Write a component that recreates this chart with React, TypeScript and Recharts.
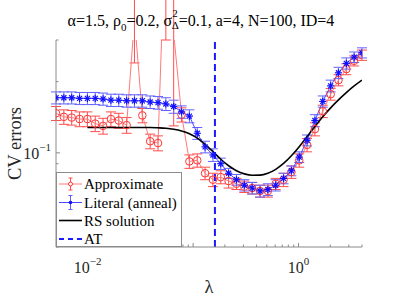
import { ComposedChart, Line, XAxis, YAxis, ErrorBar, ReferenceLine } from 'recharts';

// lambda grid (40 points, log spaced)
const lambda = [0.005, 0.005935, 0.007046, 0.008364, 0.009925, 0.01178, 0.01398, 0.0166, 0.0197, 0.02339,
  0.02776, 0.03296, 0.03912, 0.04642, 0.0551, 0.0654, 0.07763, 0.09216, 0.1094, 0.1298,
  0.1541, 0.1829, 0.2171, 0.2577, 0.3059, 0.3631, 0.431, 0.5117, 0.6073, 0.7209,
  0.8557, 1.015, 1.205, 1.43, 1.698, 2.016, 2.392, 2.84, 3.371, 4.0];

const approx = [0.147, 0.142, 0.141, 0.139, 0.139, 0.133, 0.13, 0.139, 0.137, 0.131,
  0.37, 0.144, 0.112, 0.11, 1.0, 0.32, 0.145, 0.092, 0.093, 0.082,
  0.077, 0.079, 0.076, 0.074, 0.072, 0.071, 0.069, 0.069, 0.074, 0.077,
  0.083, 0.093, 0.108, 0.126, 0.15, 0.177, 0.203, 0.226, 0.245, 0.259];
const approxErr = [0.01, 0.01, 0.01, 0.01, 0.01, 0.01, 0.01, 0.01, 0.01, 0.01,
  0.13, 0.01, 0.008, 0.008, 0.7, 0.19, 0.01, 0.006, 0.006, 0.005,
  0.005, 0.005, 0.005, 0.004, 0.004, 0.004, 0.004, 0.004, 0.004, 0.005,
  0.005, 0.006, 0.007, 0.008, 0.009, 0.01, 0.011, 0.012, 0.012, 0.013];

const literal = [0.171, 0.171, 0.171, 0.17, 0.17, 0.17, 0.169, 0.167, 0.167, 0.166,
  0.166, 0.166, 0.164, 0.163, 0.161, 0.157, 0.149, 0.143, 0.121, 0.106,
  0.098, 0.09, 0.082, 0.077, 0.073, 0.071, 0.069, 0.07, 0.073, 0.078,
  0.084, 0.096, 0.113, 0.137, 0.165, 0.192, 0.218, 0.239, 0.254, 0.265];
const literalErr = [0.01, 0.01, 0.01, 0.01, 0.01, 0.01, 0.01, 0.01, 0.01, 0.01,
  0.01, 0.01, 0.01, 0.01, 0.01, 0.01, 0.009, 0.009, 0.007, 0.006,
  0.006, 0.005, 0.004, 0.004, 0.004, 0.004, 0.004, 0.004, 0.004, 0.004,
  0.004, 0.005, 0.006, 0.008, 0.009, 0.011, 0.012, 0.013, 0.013, 0.013];

const rsSolution = [null, null, null, null, 0.128, 0.128, 0.128, 0.128, 0.128, 0.128,
  0.128, 0.128, 0.128, 0.1276, 0.127, 0.1258, 0.1238, 0.1205, 0.1155, 0.1087,
  0.1013, 0.094, 0.0882, 0.084, 0.0815, 0.0804, 0.0805, 0.082, 0.0852, 0.0902,
  0.0972, 0.1062, 0.1172, 0.1293, 0.1422, 0.155, 0.1675, 0.1798, 0.1918, 0.203];

const atLambda = 0.161;

const xTicks = [0.006, 0.007, 0.008, 0.009, 0.01, 0.02, 0.03, 0.04, 0.05, 0.06, 0.07, 0.08, 0.09,
  0.1, 0.2, 0.3, 0.4, 0.5, 0.6, 0.7, 0.8, 0.9, 1, 2, 3, 4];
const yTicks = [0.04, 0.05, 0.06, 0.07, 0.08, 0.09, 0.1, 0.2, 0.3];
const xLabels: Record<string, string> = { '0.01': '\u22122', '1': '0' };
const yLabels: Record<string, string> = { '0.1': '\u22121' };

const data = lambda.map((x, i) => ({
  x,
  approx: approx[i],
  approxErr: approxErr[i],
  literal: literal[i],
  literalErr: literalErr[i],
  rs: rsSolution[i],
}));

const FONT = "'Liberation Serif', 'Times New Roman', serif";
const AXIS = '#8a8a8a';

const XTick = (props: any) => {
  const { x, y, payload } = props;
  const v = payload.value;
  const major = v === 0.01 || v === 0.1 || v === 1;
  const exp = xLabels[String(v)];
  return (
    <g>
      <line x1={x} x2={x} y1={y} y2={y - (major ? 4 : 2.5)} stroke={AXIS} />
      {exp && (
        <text x={x} y={y + 26} textAnchor="middle" fontFamily={FONT} fontSize={16} fill="#262626">
          <tspan>10</tspan>
          <tspan dy={-8} fontSize={11}>{exp}</tspan>
        </text>
      )}
    </g>
  );
};

const YTick = (props: any) => {
  const { x, y, payload } = props;
  const v = payload.value;
  const exp = yLabels[String(v)];
  return (
    <g>
      <line x1={x} x2={x + (v === 0.1 ? 4 : 2.5)} y1={y} y2={y} stroke={AXIS} />
      {exp && (
        <text x={x - 5} y={y + 6} textAnchor="end" fontFamily={FONT} fontSize={16} fill="#262626">
          <tspan>10</tspan>
          <tspan dy={-8} fontSize={11}>{exp}</tspan>
        </text>
      )}
    </g>
  );
};

const Star = (props: any) => {
  const { cx, cy, index } = props;
  if (cx == null || cy == null) return <g key={`s${index}`} />;
  const r = 3.6;
  const d = r * 0.7;
  return (
    <g key={`s${index}`} stroke="#0f0fff" strokeWidth={1.2}>
      <line x1={cx - r} x2={cx + r} y1={cy} y2={cy} />
      <line x1={cx} x2={cx} y1={cy - r} y2={cy + r} />
      <line x1={cx - d} y1={cy - d} x2={cx + d} y2={cy + d} />
      <line x1={cx - d} y1={cy + d} x2={cx + d} y2={cy - d} />
    </g>
  );
};

const legendRows = [
  { label: 'Approximate', y: 184 },
  { label: 'Literal (anneal)', y: 202.5 },
  { label: 'RS solution', y: 220.5 },
  { label: 'AT', y: 239 },
];

export default function App() {
  return (
    <div style={{ position: 'absolute', left: 0, top: 0, width: 399, height: 299, background: '#fff' }}>
      <ComposedChart width={399} height={299} data={data} margin={{ top: 40, right: 37, bottom: 22, left: 0 }}>
        <XAxis
          dataKey="x"
          type="number"
          scale="log"
          domain={[0.005, 4]}
          allowDataOverflow
          ticks={xTicks}
          interval={0}
          tickSize={0}
          tickMargin={0}
          tickLine={false}
          tick={XTick}
          axisLine={{ stroke: AXIS }}
          height={30}
        />
        <YAxis
          type="number"
          scale="log"
          domain={[0.04, 0.3]}
          allowDataOverflow
          ticks={yTicks}
          interval={0}
          tickSize={0}
          tickMargin={0}
          tickLine={false}
          tick={YTick}
          axisLine={{ stroke: AXIS }}
          width={56}
        />
        <Line
          dataKey="approx"
          type="linear"
          stroke="#ff7a7a"
          strokeWidth={1}
          dot={{ r: 3.8, stroke: '#ff3535', fill: 'none', strokeWidth: 1 }}
          isAnimationActive={false}
        >
          <ErrorBar dataKey="approxErr" direction="y" width={5} stroke="#ff4d4d" strokeWidth={1} />
        </Line>
        <Line
          dataKey="literal"
          type="linear"
          stroke="#4a4aff"
          strokeWidth={1}
          dot={Star}
          isAnimationActive={false}
        >
          <ErrorBar dataKey="literalErr" direction="y" width={5} stroke="#6262ff" strokeWidth={1} />
        </Line>
        <Line
          dataKey="rs"
          type="monotone"
          stroke="#000"
          strokeWidth={1.6}
          dot={false}
          isAnimationActive={false}
        />
        <ReferenceLine x={atLambda} stroke="#1a1aff" strokeWidth={2} strokeDasharray="7 4" />
      </ComposedChart>
      <svg width={399} height={299} style={{ position: 'absolute', left: 0, top: 0, pointerEvents: 'none' }}>
        <text x={201} y={26} textAnchor="middle" fontFamily={FONT} fontSize={16} fill="#000">
          <tspan>α=1.5, ρ</tspan>
          <tspan dy={5} fontSize={11}>0</tspan>
          <tspan dy={-5}>=0.2, σ</tspan>
          <tspan dy={-9} fontSize={11}>2</tspan>
          <tspan dx={-6} dy={12} fontSize={11}>Δ</tspan>
          <tspan dy={-3}>=0.1, a=4, N=100, ID=4</tspan>
        </text>
        <text
          transform="translate(21,143.5) rotate(-90)"
          textAnchor="middle"
          fontFamily={FONT}
          fontSize={18.5}
          fill="#262626"
        >
          CV errors
        </text>
        <text x={209} y={293} textAnchor="middle" fontFamily={FONT} fontSize={18.5} fill="#262626">
          λ
        </text>
        <rect x={56.5} y={172.5} width={125} height={74} fill="#fff" stroke="#8c8c8c" />
        {/* Approximate */}
        <line x1={59} x2={82} y1={legendRows[0].y} y2={legendRows[0].y} stroke="#ff7a7a" />
        <line x1={70.5} x2={70.5} y1={legendRows[0].y - 6} y2={legendRows[0].y + 6} stroke="#ff4d4d" />
        <line x1={68.5} x2={72.5} y1={legendRows[0].y - 6} y2={legendRows[0].y - 6} stroke="#ff4d4d" />
        <line x1={68.5} x2={72.5} y1={legendRows[0].y + 6} y2={legendRows[0].y + 6} stroke="#ff4d4d" />
        <circle cx={70.5} cy={legendRows[0].y} r={2} fill="#fff" stroke="#ff3535" />
        {/* Literal */}
        <line x1={59} x2={82} y1={legendRows[1].y} y2={legendRows[1].y} stroke="#4a4aff" />
        <line x1={70.5} x2={70.5} y1={legendRows[1].y - 7} y2={legendRows[1].y + 7} stroke="#6262ff" />
        <line x1={68.5} x2={72.5} y1={legendRows[1].y - 7} y2={legendRows[1].y - 7} stroke="#6262ff" />
        <line x1={68.5} x2={72.5} y1={legendRows[1].y + 7} y2={legendRows[1].y + 7} stroke="#6262ff" />
        <circle cx={70.5} cy={legendRows[1].y} r={1.8} fill="#1010ff" />
        {/* RS */}
        <line x1={59} x2={82} y1={legendRows[2].y} y2={legendRows[2].y} stroke="#000" strokeWidth={1.6} />
        {/* AT */}
        <line x1={59} x2={82} y1={legendRows[3].y} y2={legendRows[3].y} stroke="#1a1aff" strokeWidth={2} strokeDasharray="5 4" />
        {legendRows.map((r) => (
          <text key={r.label} x={84} y={r.y + 5} fontFamily={FONT} fontSize={15} fill="#000">
            {r.label}
          </text>
        ))}
      </svg>
    </div>
  );
}
